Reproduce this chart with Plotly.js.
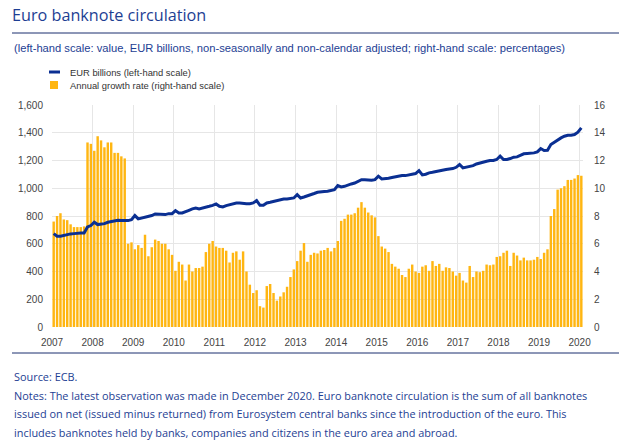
<!DOCTYPE html>
<html>
<head>
<meta charset="utf-8">
<script src="https://cdn.plot.ly/plotly-3.0.1.min.js"></script>
<style>
html,body{margin:0;padding:0;background:#fff;}
#chart{width:621px;height:445px;}
</style>
</head>
<body>
<div id="chart"></div>
<script>
// Monthly observations, December 2007 to December 2020
const startYear = 2007, startMonth = 12, monthCount = 157;
const monthLabels = [];
for (let k = 0; k < monthCount; k++) {
  const m = (startMonth - 1 + k) % 12 + 1;
  const y = startYear + Math.floor((startMonth - 1 + k) / 12);
  monthLabels.push(y + '-' + String(m).padStart(2, '0'));
}

// EUR billions (left-hand scale)
const eurBillions = [
  673, 654, 654, 661, 666, 671, 673, 678, 678, 678, 721, 731,
  755, 738, 740, 745, 755, 760, 764, 769, 767, 767, 767, 774,
  803, 779, 784, 793, 798, 803, 815, 815, 810, 810, 817, 817,
  839, 822, 822, 834, 841, 851, 858, 851, 856, 865, 870, 877,
  887, 870, 865, 875, 882, 889, 894, 894, 889, 889, 889, 894,
  911, 877, 877, 894, 899, 906, 911, 918, 923, 923, 925, 930,
  954, 930, 937, 947, 957, 962, 971, 976, 976, 978, 983, 990,
  1019, 1010, 1014, 1024, 1031, 1038, 1048, 1062, 1062, 1058, 1058, 1062,
  1087, 1067, 1067, 1072, 1077, 1082, 1087, 1091, 1091, 1096, 1099, 1106,
  1127, 1096, 1101, 1111, 1115, 1120, 1127, 1135, 1135, 1139, 1142, 1151,
  1171, 1147, 1151, 1159, 1163, 1175, 1183, 1188, 1195, 1200, 1200, 1207,
  1231, 1207, 1207, 1214, 1224, 1226, 1238, 1248, 1250, 1250, 1255, 1262,
  1286, 1272, 1274, 1315, 1332, 1346, 1363, 1375, 1382, 1382, 1387, 1404, 1435
];

// Annual growth rate, % (right-hand scale)
const growthRate = [
  7.6, 8.0, 8.2, 7.75, 7.7, 7.4, 7.2, 7.2, 7.2, 7.25, 13.3, 13.2,
  12.7, 13.75, 13.45, 12.95, 13.3, 13.3, 12.55, 12.55, 12.3, 12.15, 6.0, 6.1,
  5.6, 5.9, 5.7, 6.65, 5.1, 5.75, 6.3, 6.2, 6.0, 6.0, 5.6, 5.2,
  4.05, 4.7, 4.5, 3.35, 4.5, 4.0, 4.25, 4.25, 4.35, 5.4, 6.0, 6.2,
  5.8, 5.7, 5.7, 5.5, 4.65, 5.35, 5.45, 4.85, 5.45, 4.0, 3.05, 2.45,
  2.65, 1.5, 1.4, 2.95, 3.1, 2.45, 1.9, 2.2, 2.5, 2.9, 3.6, 4.15,
  4.75, 5.5, 6.05, 4.7, 5.2, 5.35, 5.3, 5.5, 5.55, 5.7, 5.45, 5.7,
  6.2, 7.65, 7.8, 8.1, 8.1, 8.2, 8.6, 9.0, 8.6, 8.25, 8.05, 7.9,
  6.55, 5.8, 5.65, 5.4, 4.55, 4.35, 4.2, 3.75, 3.6, 4.2, 4.5, 4.0,
  3.9, 4.35, 4.45, 4.05, 4.75, 4.4, 4.55, 4.05, 4.3, 4.25, 4.0, 3.7,
  3.9, 3.35, 3.2, 4.4, 3.6, 4.0, 3.95, 4.05, 4.5, 4.45, 4.5, 5.05,
  5.1, 5.35, 5.5, 4.4, 5.35, 5.15, 4.8, 5.0, 4.8, 4.8, 4.85, 5.05,
  4.9, 5.35, 5.6, 8.0, 8.5, 9.9, 10.0, 10.15, 10.6, 10.6, 10.7, 10.95, 10.9
];

const yearLabels = ['2007','2008','2009','2010','2011','2012','2013','2014','2015','2016','2017','2018','2019','2020'];

const seriesNames = ['EUR billions (left-hand scale)', 'Annual growth rate (right-hand scale)'];
const titleText = 'Euro banknote circulation';
const subtitleText = '(left-hand scale: value, EUR billions, non-seasonally and non-calendar adjusted; right-hand scale: percentages)';
const noteLines = [
  'Source: ECB.',
  'Notes: The latest observation was made in December 2020. Euro banknote circulation is the sum of all banknotes',
  'issued on net (issued minus returned) from Eurosystem central banks since the introduction of the euro. This',
  'includes banknotes held by banks, companies and citizens in the euro area and abroad.'
];

const xIdx = monthLabels.map((_, i) => i);
const tickPos = yearLabels.map((_, k) => 12 * k - 0.5);

const BLUE = '#0a2f92';
const YELLOW = '#FFB612';
const TEXTBLUE = '#1d3e93';

// page pixel -> paper coords (plot area: x 52..583, y 105..327)
const L = 52, R = 583, T = 105, B = 327;
const px = v => (v - L) / (R - L);
const py = v => (B - v) / (B - T);

const traces = [
  {
    type: 'bar', x: xIdx, y: growthRate, name: seriesNames[1],
    text: monthLabels, hovertemplate: '%{text}: %{y}%<extra></extra>', textposition: 'none',
    marker: {color: YELLOW, line: {width: 0}}, yaxis: 'y'
  },
  {
    type: 'scatter', mode: 'lines', x: xIdx, y: eurBillions, name: seriesNames[0],
    text: monthLabels, hovertemplate: '%{text}: %{y}<extra></extra>',
    line: {color: BLUE, width: 3}, yaxis: 'y2'
  }
];

const tickFont = {family: 'Liberation Sans, Arial, sans-serif', size: 10, color: '#444'};

const annotations = [
  {text: subtitleText, x: px(12), y: py(48), xanchor: 'left', yanchor: 'middle',
   font: {family: 'Liberation Sans, Arial, sans-serif', size: 11.2, color: TEXTBLUE}},
  {text: seriesNames[0], x: px(68), y: py(72), xanchor: 'left', yanchor: 'middle',
   font: {family: 'Liberation Sans, Arial, sans-serif', size: 9.4, color: '#333'}},
  {text: seriesNames[1], x: px(68), y: py(85), xanchor: 'left', yanchor: 'middle',
   font: {family: 'Liberation Sans, Arial, sans-serif', size: 9.4, color: '#333'}}
];
const noteY = [376, 395, 413, 432];
noteLines.forEach((t, k) => annotations.push({
  text: t, x: px(12), y: py(noteY[k]), xanchor: 'left', yanchor: 'middle',
  font: {family: 'Open Sans, sans-serif', size: 10.9, color: TEXTBLUE}
}));
annotations.forEach(a => { a.xref = 'paper'; a.yref = 'paper'; a.showarrow = false; });

const shapes = [
  {type: 'line', x0: px(12), x1: px(619), y0: py(33), y1: py(33), line: {color: '#1b2f6e', width: 1}},
  {type: 'line', x0: px(12), x1: px(619), y0: py(353), y1: py(353), line: {color: '#1b2f6e', width: 1}},
  {type: 'line', x0: px(49), x1: px(60), y0: py(72), y1: py(72), line: {color: BLUE, width: 3}},
  {type: 'rect', x0: px(50), x1: px(58), y0: py(81), y1: py(89), line: {width: 0}, fillcolor: YELLOW}
];
shapes.forEach(s => { s.xref = 'paper'; s.yref = 'paper'; });

const layout = {
  width: 621, height: 445,
  margin: {l: L, r: 621 - R, t: T, b: 445 - B, pad: 0},
  paper_bgcolor: '#fff', plot_bgcolor: '#fff',
  showlegend: false,
  bargap: 0.28,
  title: {text: titleText, x: 12 / 621, xref: 'container', xanchor: 'left',
          y: 1 - 15 / 445, yref: 'container', yanchor: 'middle',
          font: {family: 'Open Sans, sans-serif', size: 16.2, color: TEXTBLUE}},
  xaxis: {
    range: [-0.5, monthCount - 0.5], tickmode: 'array', tickvals: tickPos, ticktext: yearLabels,
    showgrid: true, gridcolor: '#e6e6e6', gridwidth: 1, zeroline: false, showline: false,
    ticks: '', tickfont: tickFont, ticklabelstandoff: 8, fixedrange: true
  },
  yaxis: {
    side: 'right', range: [0, 16], dtick: 2, tick0: 0,
    showgrid: true, gridcolor: '#e6e6e6', zeroline: false, showline: false,
    ticks: '', tickfont: tickFont, ticklabelstandoff: 10, fixedrange: true
  },
  yaxis2: {
    side: 'left', overlaying: 'y', range: [0, 1600], dtick: 200, tick0: 0, tickformat: ',',
    showgrid: false, zeroline: false, showline: false,
    ticks: '', tickfont: tickFont, ticklabelstandoff: 8, fixedrange: true
  },
  annotations: annotations,
  shapes: shapes
};

Plotly.newPlot('chart', traces, layout, {displayModeBar: false, staticPlot: true});
</script>
</body>
</html>
